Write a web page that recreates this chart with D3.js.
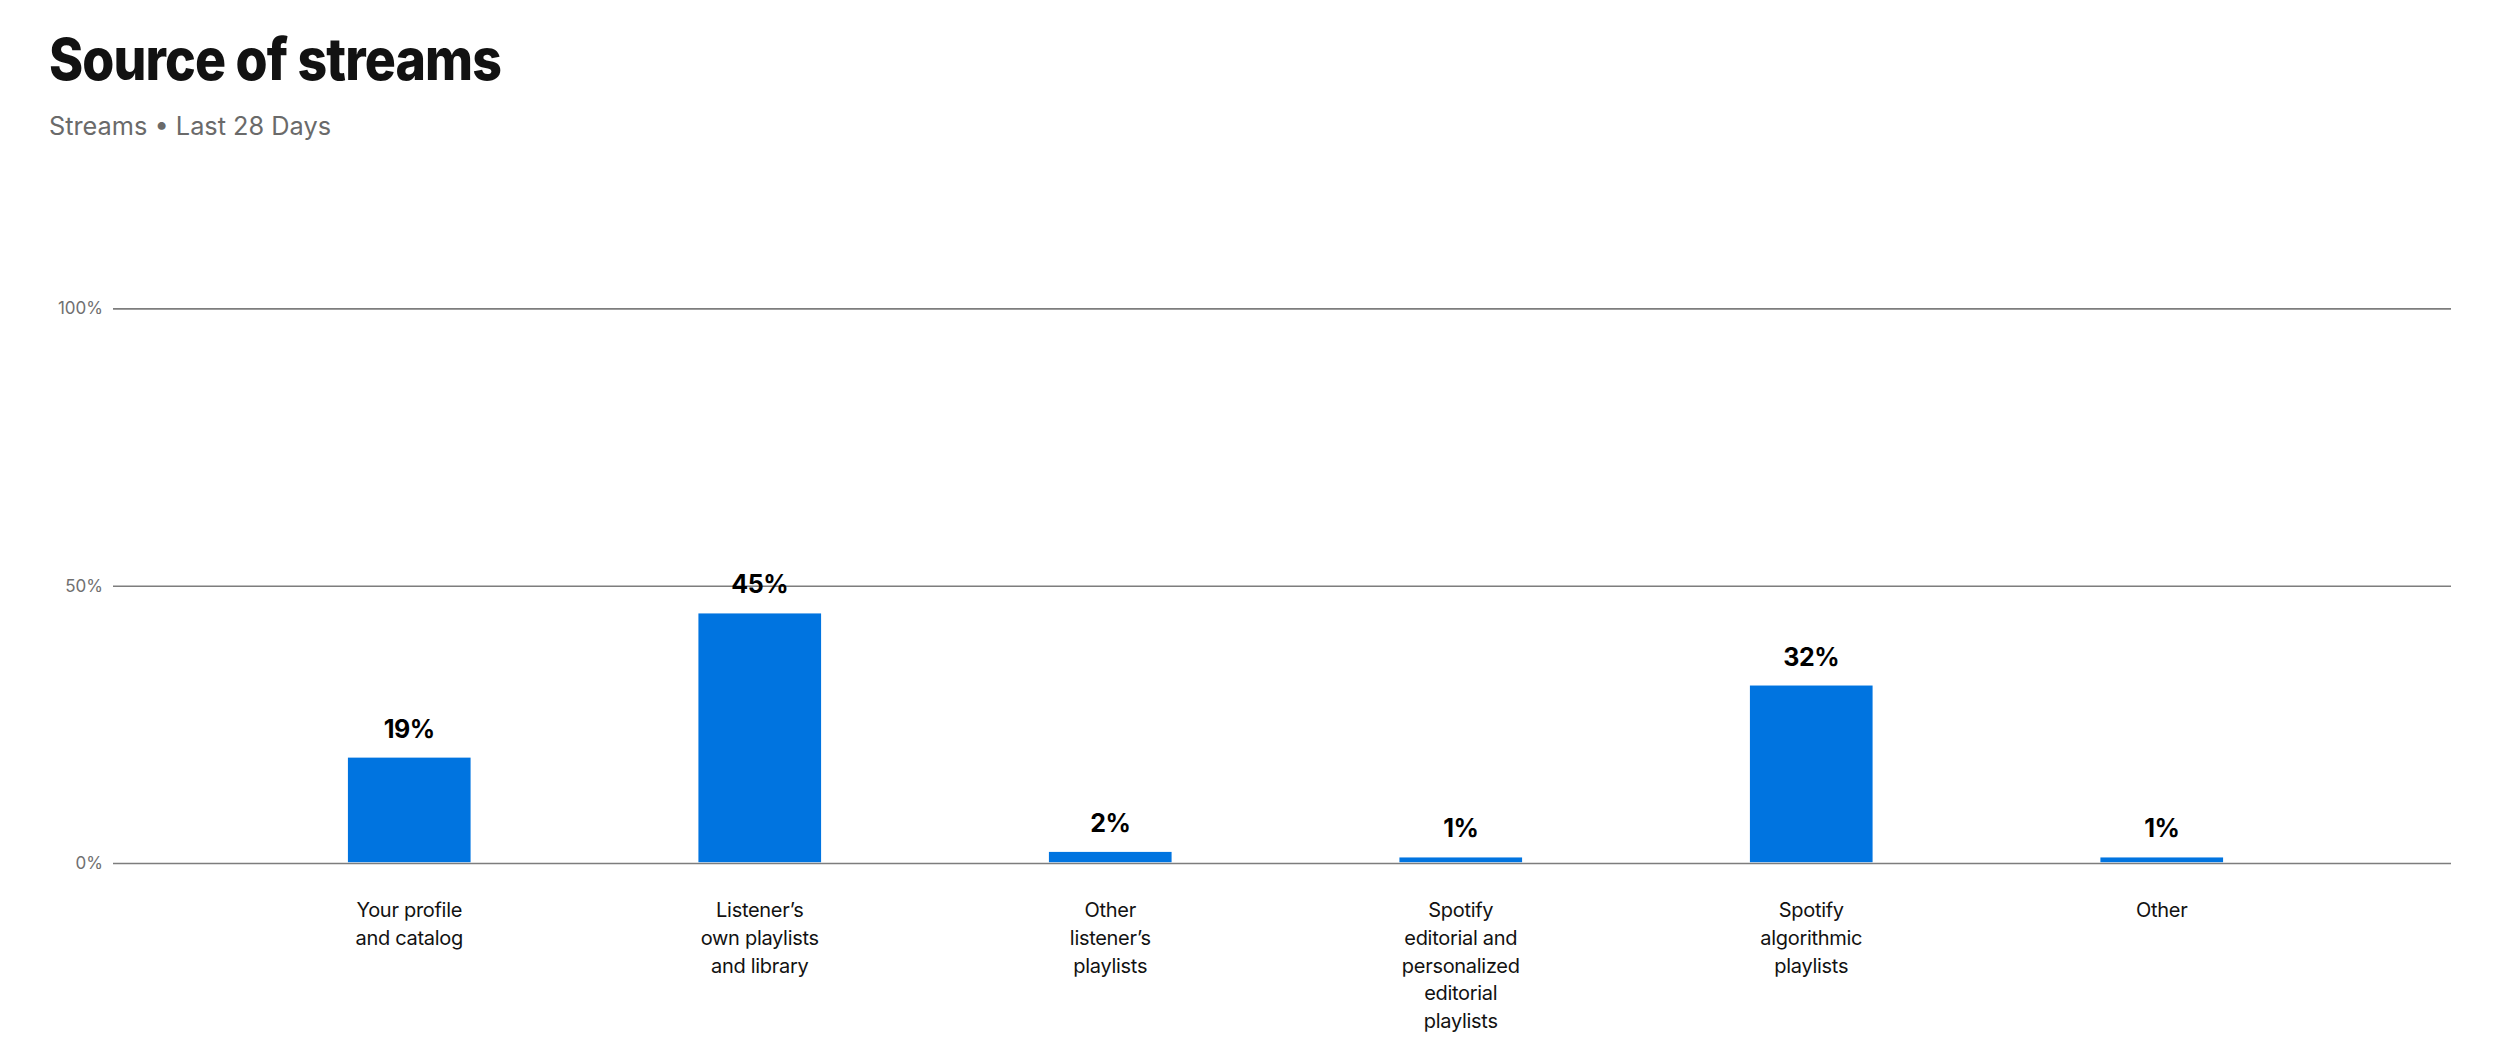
<!DOCTYPE html>
<html>
<head>
<meta charset="utf-8">
<script src="https://cdn.jsdelivr.net/npm/d3@7"></script>
<style>
  html, body { margin: 0; padding: 0; background: #ffffff; }
  svg { display: block; }
</style>
</head>
<body>
<svg id="chart" width="2500" height="1063"></svg>
<script>
const title = "Source of streams";
const subtitle = "Streams • Last 28 Days";
const categories = [
  ["Your profile", "and catalog"],
  ["Listener’s", "own playlists", "and library"],
  ["Other", "listener’s", "playlists"],
  ["Spotify", "editorial and", "personalized", "editorial", "playlists"],
  ["Spotify", "algorithmic", "playlists"],
  ["Other"]
];
const values = [19, 45, 2, 1, 32, 1];
const yTicks = [0, 50, 100];
const yTickLabels = ["0%", "50%", "100%"];

const svg = d3.select("#chart");
svg.append("rect").attr("width", 2500).attr("height", 1063).attr("fill", "#ffffff");

const FONT = "Inter, 'Noto Sans', Lato, sans-serif";

// Title & subtitle
svg.append("text")
  .attr("x", 49).attr("y", 79.5)
  .attr("font-family", FONT)
  .attr("font-weight", 800)
  .attr("font-size", 58)
  .attr("letter-spacing", "-1px")
  .attr("textLength", 452)
  .attr("lengthAdjust", "spacingAndGlyphs")
  .attr("fill", "#121212")
  .text(title);

svg.append("text")
  .attr("x", 49).attr("y", 135)
  .attr("font-family", FONT)
  .attr("font-weight", 400)
  .attr("font-size", 25)
  .attr("textLength", 282)
  .attr("lengthAdjust", "spacingAndGlyphs")
  .attr("fill", "#6a6a6a")
  .text(subtitle);

// Scales
const gridLeft = 113, gridRight = 2451;
const y = d3.scaleLinear().domain([0, 100]).range([863, 308.4]);
const x = d3.scaleBand()
  .domain(d3.range(categories.length))
  .range([234, 2337])
  .paddingInner(0.65)
  .paddingOuter(0.325);

// Gridlines via axis
const yAxis = d3.axisLeft(y)
  .tickValues(yTicks)
  .tickSize(-(gridRight - gridLeft))
  .tickPadding(10)
  .tickFormat((d, i) => yTickLabels[i]);

const gAxis = svg.append("g")
  .attr("transform", `translate(${gridLeft},0)`)
  .call(yAxis);
gAxis.select(".domain").remove();
gAxis.selectAll(".tick line")
  .attr("stroke", "#7d7d7d")
  .attr("stroke-width", 1.6);
gAxis.selectAll(".tick text")
  .attr("font-family", FONT)
  .attr("font-size", 17)
  .attr("fill", "#707070");

// Bars
svg.append("g").selectAll("rect")
  .data(values)
  .join("rect")
  .attr("x", (d, i) => x(i))
  .attr("width", x.bandwidth())
  .attr("y", d => y(d))
  .attr("height", d => y(0) - y(d) - 0.8)
  .attr("fill", "#0074e0");

// Value labels
svg.append("g").selectAll("text")
  .data(values)
  .join("text")
  .attr("x", (d, i) => x(i) + x.bandwidth() / 2)
  .attr("y", d => y(d) - 20)
  .attr("text-anchor", "middle")
  .attr("font-family", FONT)
  .attr("font-weight", 700)
  .attr("font-size", 25)
  .attr("letter-spacing", "-0.5px")
  .attr("fill", "#000000")
  .text(d => d + "%");

// Category labels
const catG = svg.append("g").selectAll("text")
  .data(categories)
  .join("text")
  .attr("x", (d, i) => x(i) + x.bandwidth() / 2)
  .attr("y", 917)
  .attr("text-anchor", "middle")
  .attr("font-family", FONT)
  .attr("font-size", 20)
  .attr("letter-spacing", "-0.3px")
  .attr("fill", "#121212");
catG.selectAll("tspan")
  .data(d => d)
  .join("tspan")
  .attr("x", function() { return this.parentNode.getAttribute("x"); })
  .attr("dy", (d, i) => i === 0 ? 0 : 27.8)
  .text(d => d);
</script>
</body>
</html>
